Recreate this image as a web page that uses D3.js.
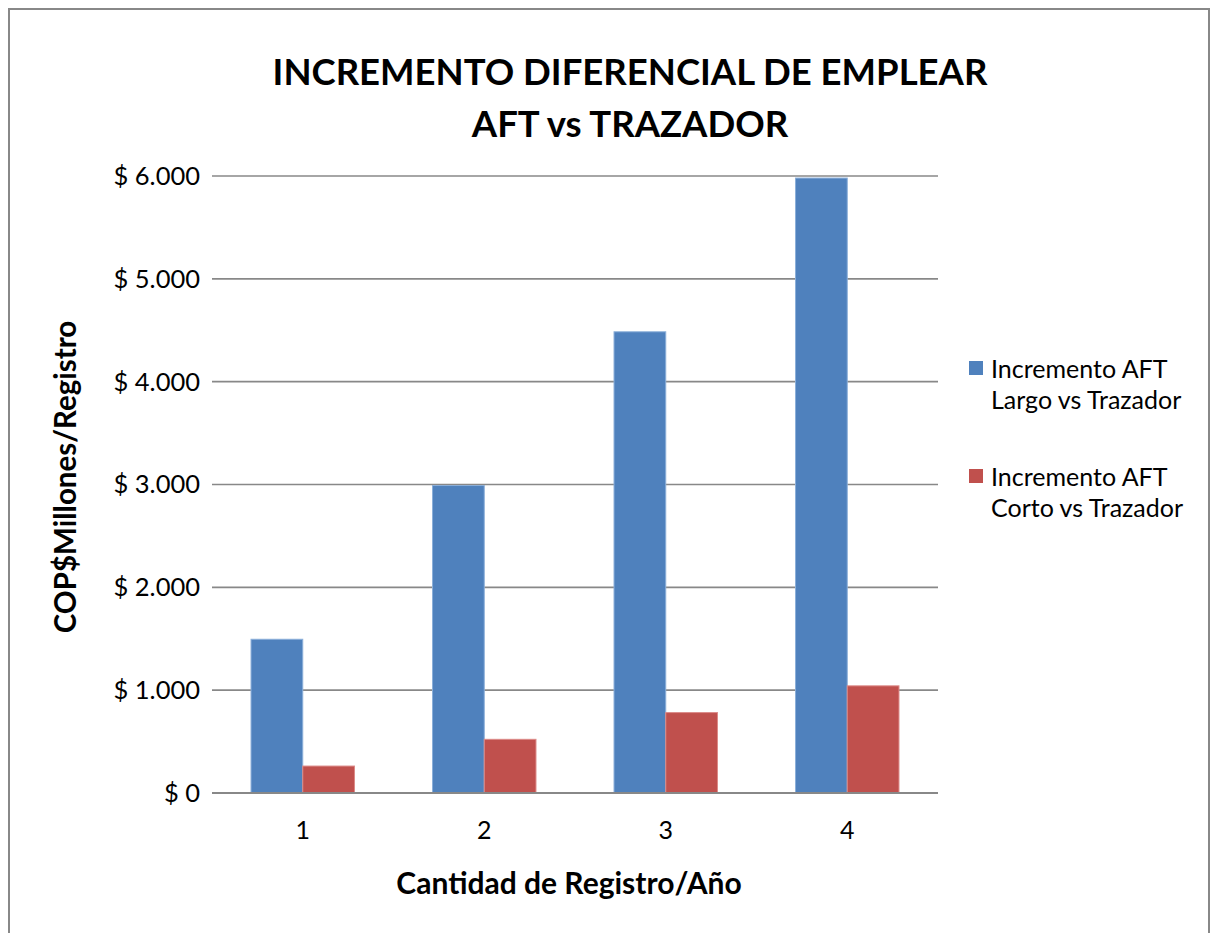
<!DOCTYPE html>
<html>
<head>
<meta charset="utf-8">
<script src="https://cdnjs.cloudflare.com/ajax/libs/d3/7.8.5/d3.min.js"></script>
<style>
  body { margin: 0; background: #fff; }
  svg text { font-family: Lato, "Open Sans", sans-serif; fill: #000; }
</style>
</head>
<body>
<svg id="chart" width="1212" height="933"></svg>
<script>
// chart data
var categories = ["1", "2", "3", "4"];
var seriesNames = ["Incremento AFT Largo vs Trazador", "Incremento AFT Corto vs Trazador"];
var largoValues = [1495, 2990, 4485, 5980];
var cortoValues = [262, 522, 782, 1042];
var yTicks = [0, 1000, 2000, 3000, 4000, 5000, 6000];
var colors = ["#4F81BD", "#C0504D"];
var strokes = ["#8BAFD9", "#DC8A88"];

var svg = d3.select("#chart");

// outer frame
svg.append("rect")
    .attr("x", 9).attr("y", 9)
    .attr("width", 1200).attr("height", 940)
    .attr("fill", "#fff")
    .attr("stroke", "#888")
    .attr("stroke-width", 2);

var margin = { left: 212, right: 938, top: 176, bottom: 793 };

var x = d3.scaleBand()
    .domain(categories)
    .range([margin.left, margin.right])
    .paddingInner(0.43)
    .paddingOuter(0.215);

var y = d3.scaleLinear()
    .domain([0, 6000])
    .range([margin.bottom, margin.top]);

// gridlines
svg.append("g")
    .selectAll("line")
    .data(yTicks)
    .enter().append("line")
    .attr("x1", margin.left).attr("x2", margin.right)
    .attr("y1", function(d) { return y(d); })
    .attr("y2", function(d) { return y(d); })
    .attr("stroke", "#888")
    .attr("stroke-width", 1.6);

// y tick labels
var fmt = function(d) { return "$ " + d3.format(",")(d).replace(/,/g, "."); };
svg.append("g")
    .selectAll("text")
    .data(yTicks)
    .enter().append("text")
    .attr("x", 200)
    .attr("y", function(d) { return y(d); })
    .attr("dy", "0.35em")
    .attr("text-anchor", "end")
    .style("font-size", "25.5px")
    .text(fmt);

// bars
var sub = d3.scaleBand()
    .domain([0, 1])
    .range([0, x.bandwidth()]);

var seriesData = [largoValues, cortoValues];
seriesData.forEach(function(vals, si) {
    svg.append("g")
        .selectAll("rect")
        .data(vals)
        .enter().append("rect")
        .attr("x", function(d, i) { return x(categories[i]) + sub(si); })
        .attr("y", function(d) { return y(d); })
        .attr("width", sub.bandwidth())
        .attr("height", function(d) { return y(0) - y(d); })
        .attr("fill", colors[si])
        .attr("stroke", strokes[si])
        .attr("stroke-width", 1);
});

// axis baseline
svg.append("line")
    .attr("x1", margin.left).attr("x2", margin.right)
    .attr("y1", y(0)).attr("y2", y(0))
    .attr("stroke", "#888")
    .attr("stroke-width", 2);

// x tick labels
svg.append("g")
    .selectAll("text")
    .data(categories)
    .enter().append("text")
    .attr("x", function(d) { return x(d) + x.bandwidth() / 2; })
    .attr("y", 830)
    .attr("dy", "0.35em")
    .attr("text-anchor", "middle")
    .style("font-size", "25px")
    .text(function(d) { return d; });

// title
var title = svg.append("text")
    .attr("text-anchor", "middle")
    .style("font-size", "36.5px")
    .style("font-weight", "bold");
title.append("tspan").attr("x", 630).attr("y", 85).text("INCREMENTO DIFERENCIAL DE EMPLEAR");
title.append("tspan").attr("x", 630).attr("y", 137).text("AFT vs TRAZADOR");

// axis titles
svg.append("text")
    .attr("transform", "translate(76,477) rotate(-90)")
    .attr("text-anchor", "middle")
    .style("font-size", "29.5px")
    .style("font-weight", "bold")
    .text("COP$Millones/Registro");

svg.append("text")
    .attr("x", 569)
    .attr("y", 894)
    .attr("text-anchor", "middle")
    .style("font-size", "30px")
    .style("font-weight", "bold")
    .text("Cantidad de Registro/Año");

// legend
var legend = svg.append("g");
var legendY = [361, 469];
seriesNames.forEach(function(name, i) {
    legend.append("rect")
        .attr("x", 969).attr("y", legendY[i])
        .attr("width", 14).attr("height", 14)
        .attr("fill", colors[i]);
    var words = name.split(" ");
    var t = legend.append("text").style("font-size", "25px");
    t.append("tspan").attr("x", 991).attr("y", legendY[i] + 17)
        .text(words.slice(0, 2).join(" "));
    t.append("tspan").attr("x", 991).attr("y", legendY[i] + 48)
        .text(words.slice(2).join(" "));
});
</script>
</body>
</html>
